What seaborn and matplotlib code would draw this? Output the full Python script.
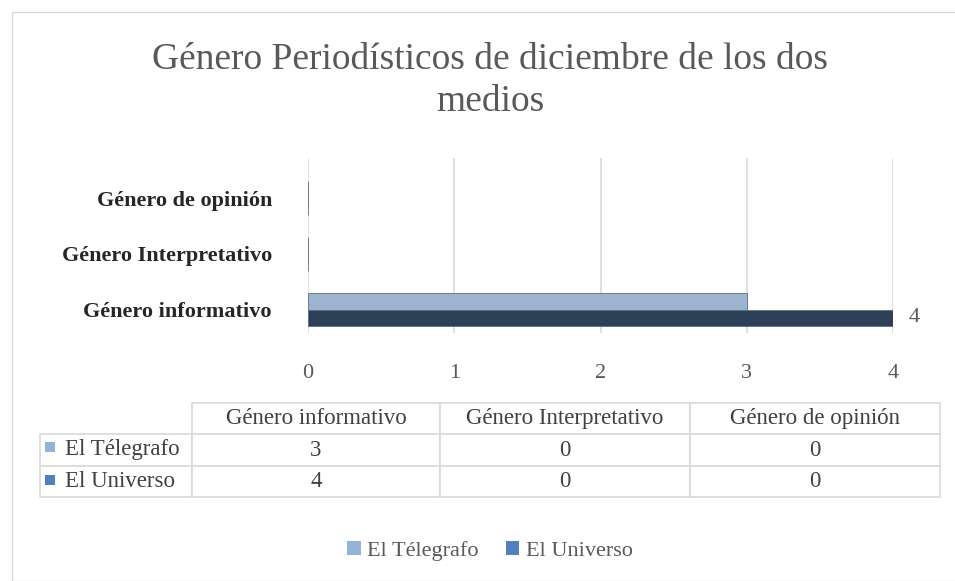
import pandas as pd
import matplotlib.pyplot as plt
import seaborn as sns
from matplotlib.patches import Patch, Rectangle

categories = ["Género de opinión", "Género Interpretativo", "Género informativo"]
table_cols = ["Género informativo", "Género Interpretativo", "Género de opinión"]
series = ["El Télegrafo", "El Universo"]
telegrafo = [0, 0, 3]
universo = [0, 0, 4]
ticks = [0, 1, 2, 3, 4]

bar_colors = ["#95b3d7", "#243f60"]
key_colors = ["#95b3d7", "#4f81bd"]
text_color = "#404040"

sns.set_theme(style="white")
plt.rcParams["font.family"] = ["Liberation Serif", "DejaVu Serif"]

df = pd.DataFrame({
    "categoria": categories * 2,
    "medio": [series[0]] * 3 + [series[1]] * 3,
    "valor": telegrafo + universo,
})

fig = plt.figure(figsize=(9.55, 5.81), dpi=100)
fig.patches.append(Rectangle((12 / 955, 0), 1, 1 - 12 / 581, transform=fig.transFigure,
                             fill=False, edgecolor="#d9d9d9", linewidth=1))

ax = fig.add_axes([308 / 955, 1 - 333 / 581, 585 / 955, 175 / 581])
sns.barplot(data=df, y="categoria", x="valor", hue="medio", order=categories,
            hue_order=series, palette=bar_colors, orient="h", width=0.6,
            edgecolor="#5a6f8a", linewidth=0.6, legend=False, ax=ax)

ax.set_xlim(0, 4)
ax.set_ylim(2.42, -0.72)
ax.set_xticks(ticks)
ax.set_xticklabels([str(t) for t in ticks], fontsize=16, color="#595959")
ax.tick_params(axis="x", length=0, pad=22)
ax.tick_params(axis="y", length=0, pad=26)
for lbl in ax.get_yticklabels():
    lbl.set_fontsize(16)
    lbl.set_fontweight("bold")
    lbl.set_color("#262626")
ax.set_xlabel("")
ax.set_ylabel("")
ax.grid(axis="x", color="#d9d9d9", linewidth=1.2)
ax.set_axisbelow(True)
for s in ax.spines.values():
    s.set_visible(False)

# data label only on the El Universo bar
ax.bar_label(ax.containers[1], labels=["" if v == 0 else str(v) for v in universo],
             padding=11, fontsize=16, color="#595959")

fig.text(0.513, 1 - 60 / 581, "Género Periodísticos de diciembre de los dos",
         ha="center", va="center", fontsize=27, color="#595959")
fig.text(0.513, 1 - 102 / 581, "medios", ha="center", va="center", fontsize=27, color="#595959")

# data table
tax = fig.add_axes([40 / 955, 1 - 497 / 581, 900 / 955, 94 / 581])
tax.axis("off")
by_col = list(zip(*[telegrafo, universo]))[::-1]
cell_text = [[""] + table_cols]
for i, name in enumerate(series):
    cell_text.append(["    " + name] + [str(col[i]) for col in by_col])
col_w = [152 / 900, 248 / 900, 250 / 900, 250 / 900]
tbl = tax.table(cellText=cell_text, colWidths=col_w, cellLoc="center", bbox=[0, 0, 1, 1])
tbl.auto_set_font_size(False)
for (r, c), cell in tbl.get_celld().items():
    cell.set_edgecolor("#d9d9d9")
    cell.set_linewidth(1.2)
    cell.get_text().set_fontsize(16.5)
    cell.get_text().set_color(text_color)
    cell.PAD = 0.01
    if c == 0:
        cell.get_text().set_ha("left")
        cell._loc = "left"
tbl[0, 0].visible_edges = ""
# markers in the row labels
row_mid = [1 - (27 + 16.5) / 94, 1 - (60 + 17) / 94]
for y, col in zip(row_mid, key_colors):
    tax.add_patch(Rectangle((5 / 900, y - 5 / 94), 10 / 900, 10 / 94,
                            transform=tax.transAxes, facecolor=col, edgecolor="none",
                            zorder=5))

handles = [Patch(facecolor=c, edgecolor="none") for c in key_colors]
fig.legend(handles, series, loc="center", bbox_to_anchor=(0.513, 1 - 551 / 581), ncol=2,
           frameon=False, fontsize=16, handlelength=0.6, handleheight=0.6,
           handletextpad=0.3, columnspacing=1.2, labelcolor="#595959")

fig.savefig("out.png", dpi=100)
